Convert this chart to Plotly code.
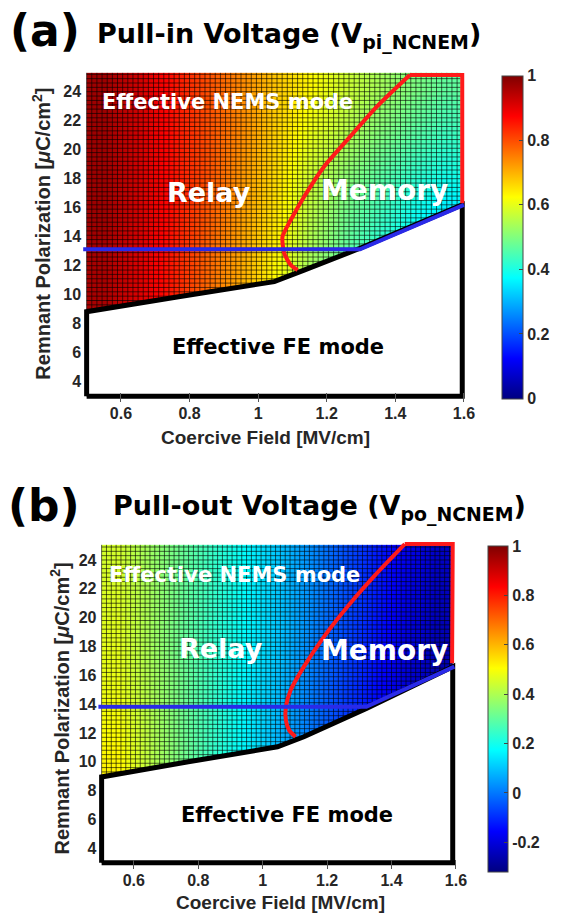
import numpy as np
import plotly.graph_objects as go

W, H = 567, 920

# ---------------- data ----------------
X_EDGES = [0.5, 0.6, 0.7, 0.8, 0.9, 1.0, 1.1, 1.2, 1.3, 1.4, 1.5, 1.59]
Y_EDGES_A = [3, 8, 11, 14, 17, 20, 23, 25.3]
Y_EDGES_B = [3, 8, 11, 14, 17, 20, 23, 25.05]

# Pull-in voltage (normalised), rows bottom -> top
VPI = [
    [0.96, 0.91, 0.85, 0.77, 0.70, 0.62, 0.52, 0.45, 0.39, 0.34, 0.30],
    [0.96, 0.91, 0.85, 0.77, 0.70, 0.62, 0.52, 0.45, 0.39, 0.34, 0.30],
    [0.96, 0.91, 0.85, 0.78, 0.71, 0.63, 0.54, 0.47, 0.41, 0.36, 0.32],
    [0.97, 0.92, 0.86, 0.79, 0.72, 0.65, 0.56, 0.49, 0.44, 0.39, 0.35],
    [0.97, 0.92, 0.86, 0.80, 0.73, 0.66, 0.58, 0.52, 0.47, 0.43, 0.40],
    [0.97, 0.92, 0.86, 0.80, 0.74, 0.67, 0.61, 0.56, 0.51, 0.47, 0.44],
    [0.97, 0.92, 0.86, 0.80, 0.74, 0.68, 0.63, 0.58, 0.54, 0.50, 0.47],
]
# Pull-out voltage (normalised), rows bottom -> top
VPO = [
    [0.52, 0.42, 0.33, 0.24, 0.16, 0.08, 0.00, -0.08, -0.16, -0.23, -0.28],
    [0.52, 0.42, 0.33, 0.24, 0.16, 0.08, 0.00, -0.08, -0.16, -0.23, -0.28],
    [0.50, 0.41, 0.32, 0.24, 0.16, 0.08, 0.00, -0.08, -0.15, -0.22, -0.27],
    [0.48, 0.40, 0.32, 0.24, 0.16, 0.09, 0.01, -0.07, -0.14, -0.21, -0.26],
    [0.47, 0.39, 0.31, 0.24, 0.17, 0.10, 0.02, -0.06, -0.13, -0.20, -0.25],
    [0.46, 0.39, 0.31, 0.24, 0.17, 0.10, 0.03, -0.05, -0.12, -0.19, -0.24],
    [0.45, 0.38, 0.31, 0.24, 0.17, 0.10, 0.03, -0.05, -0.12, -0.18, -0.23],
]

# FE-mode boundary (white region), panel a
FE_A_X = [0.5, 0.5, 0.768, 1.047, 1.134, 1.297, 1.595, 1.595, 0.5]
FE_A_Y = [3.0, 8.83, 9.86, 10.9, 11.7, 13.2, 16.2, 3.0, 3.0]
# Blue line, panel a
BL_A_X = [0.49, 1.297, 1.6]
BL_A_Y = [13.13, 13.13, 16.2]
# Red memory boundary, panel a
RD_A_X = [1.115, 1.095, 1.076, 1.071, 1.095, 1.134, 1.192, 1.268, 1.346, 1.442, 1.595, 1.595]
RD_A_Y = [11.7, 12.05, 12.86, 14.0, 15.15, 16.76, 18.83, 20.9, 22.97, 25.15, 25.15, 16.3]

# panel b
FE_B_X = [0.5, 0.5, 0.769, 1.046, 1.128, 1.322, 1.59, 1.59, 0.5]
FE_B_Y = [3.0, 8.95, 10.0, 11.04, 11.74, 13.7, 16.6, 3.0, 3.0]
BL_B_X = [0.49, 1.322, 1.595]
BL_B_Y = [13.82, 13.82, 16.6]
RD_B_X = [1.102, 1.082, 1.072, 1.072, 1.087, 1.128, 1.19, 1.272, 1.354, 1.441, 1.59, 1.588]
RD_B_Y = [11.74, 12.2, 12.9, 13.82, 14.98, 16.6, 18.67, 21.0, 23.07, 25.1, 25.1, 16.83]

X_TICKS = [0.6, 0.8, 1.0, 1.2, 1.4, 1.6]
X_TICKTEXT = ["0.6", "0.8", "1", "1.2", "1.4", "1.6"]
Y_TICKS = [4, 6, 8, 10, 12, 14, 16, 18, 20, 22, 24]
CB_A_TICKS = [0, 0.2, 0.4, 0.6, 0.8, 1]
CB_A_TEXT = ["0", "0.2", "0.4", "0.6", "0.8", "1"]
CB_B_TICKS = [-0.2, 0, 0.2, 0.4, 0.6, 0.8, 1]
CB_B_TEXT = ["-0.2", "0", "0.2", "0.4", "0.6", "0.8", "1"]

# ---------------- style ----------------
JET = [[0.0, "rgb(0,0,128)"], [0.125, "rgb(0,0,255)"], [0.375, "rgb(0,255,255)"],
       [0.625, "rgb(255,255,0)"], [0.875, "rgb(255,0,0)"], [1.0, "rgb(128,0,0)"]]
AX_FONT = "Liberation Sans, Arial, sans-serif"
LBL_FONT = "DejaVu Sans, sans-serif"
DARK = "#262626"


def px2x(p):
    return p / W


def py2y(p):
    return 1 - p / H


fig = go.Figure()


def mesh(xmin, xmax, ymin, ymax, dx, dy):
    xs, ys = [], []
    for xv in np.arange(xmin, xmax + 1e-9, dx):
        xs += [xv, xv, None]
        ys += [ymin, ymax, None]
    for yv in np.arange(ymin, ymax + 1e-9, dy):
        xs += [xmin, xmax, None]
        ys += [yv, yv, None]
    return xs, ys


def panel(z, yedges, zmin, zmax, cb, fe, bl, rd, xa, ya):
    fig.add_trace(go.Heatmap(
        x=X_EDGES, y=yedges, z=z, zmin=zmin, zmax=zmax, colorscale=JET,
        zsmooth="best", xaxis=xa, yaxis=ya, colorbar=cb, hoverinfo="skip"))
    mx, my = mesh(X_EDGES[0], X_EDGES[-1], yedges[0], yedges[-1], 0.015, 0.3)
    fig.add_trace(go.Scatter(x=mx, y=my, mode="lines", xaxis=xa, yaxis=ya,
                             line=dict(color="rgba(0,0,0,0.68)", width=0.9),
                             hoverinfo="skip"))
    fig.add_trace(go.Scatter(x=fe[0], y=fe[1], mode="lines", fill="toself",
                             fillcolor="white", xaxis=xa, yaxis=ya,
                             line=dict(color="black", width=5), hoverinfo="skip"))
    # curved part of the red boundary, then its straight top/right edges
    fig.add_trace(go.Scatter(x=rd[0][:10], y=rd[1][:10], mode="lines", xaxis=xa, yaxis=ya,
                             line=dict(color="#ff1a1a", width=4, shape="spline",
                                       smoothing=0.6),
                             hoverinfo="skip"))
    fig.add_trace(go.Scatter(x=rd[0][9:], y=rd[1][9:], mode="lines", xaxis=xa, yaxis=ya,
                             line=dict(color="#ff1a1a", width=4), hoverinfo="skip"))
    fig.add_trace(go.Scatter(x=bl[0], y=bl[1], mode="lines", xaxis=xa, yaxis=ya,
                             line=dict(color="#2a2ae8", width=4), hoverinfo="skip"))


cb_common = dict(xanchor="left", yanchor="middle", lenmode="fraction", xpad=0, ypad=0,
                 outlinewidth=1, outlinecolor="#444", ticks="inside", ticklen=4,
                 tickcolor="#444",
                 tickfont=dict(family=AX_FONT, size=16, color=DARK, weight="bold"))

cb_a = dict(cb_common, x=px2x(506), y=py2y(237), len=323 / H, thickness=21,
            tickvals=CB_A_TICKS, ticktext=CB_A_TEXT)
cb_b = dict(cb_common, x=px2x(492), y=py2y(709), len=326 / H, thickness=20,
            tickvals=CB_B_TICKS, ticktext=CB_B_TEXT)

panel(VPI, Y_EDGES_A, 0, 1, cb_a, (FE_A_X, FE_A_Y), (BL_A_X, BL_A_Y),
      (RD_A_X, RD_A_Y), "x", "y")
panel(VPO, Y_EDGES_B, -0.32, 1.0, cb_b, (FE_B_X, FE_B_Y), (BL_B_X, BL_B_Y),
      (RD_B_X, RD_B_Y), "x2", "y2")

xax = dict(range=[0.487, 1.62], showgrid=False, zeroline=False, showline=False,
           tickvals=X_TICKS, ticktext=X_TICKTEXT, ticks="inside", ticklen=9,
           tickcolor="#555", tickwidth=1,
           tickfont=dict(family=AX_FONT, size=16, color=DARK, weight="bold"))
yax = dict(range=[2.6, 25.4], showgrid=False, zeroline=False, showline=False,
           tickvals=Y_TICKS, ticks="",
           tickfont=dict(family=AX_FONT, size=16, color=DARK, weight="bold"))

# pixel positions of the axis ranges (0.5 -> 87.4 px, 346 px/unit for panel a;
# 0.5 -> 102.5 px, 325 px/unit for panel b)
fig.update_layout(
    width=W, height=H, margin=dict(l=0, r=0, t=0, b=0),
    paper_bgcolor="white", plot_bgcolor="white", showlegend=False,
    xaxis=dict(xax, domain=[px2x(82.9), px2x(475)], anchor="y"),
    yaxis=dict(yax, domain=[py2y(402), py2y(71.4)], anchor="x"),
    xaxis2=dict(xax, domain=[px2x(98.3), px2x(466.5)], anchor="y2"),
    yaxis2=dict(yax, domain=[py2y(868.5), py2y(539.8)], anchor="x2"),
)

ann = []


def txt(text, x, y, size, color, font, xref="paper", yref="paper", angle=0,
        xanchor="center"):
    ann.append(dict(text=text, x=x, y=y, xref=xref, yref=yref, showarrow=False,
                    textangle=angle, xanchor=xanchor, yanchor="middle",
                    font=dict(family=font, size=size, color=color)))


# titles
txt("<b>(a)</b>", px2x(8), py2y(31), 44, "black", LBL_FONT, xanchor="left")
txt("<b>Pull-in Voltage (V<sub>pi_NCNEM</sub>)</b>", px2x(96), py2y(36), 27,
    "black", LBL_FONT, xanchor="left")
txt("<b>(b)</b>", px2x(6), py2y(505), 44, "black", LBL_FONT, xanchor="left")
txt("<b>Pull-out Voltage (V<sub>po_NCNEM</sub>)</b>", px2x(112), py2y(508), 27,
    "black", LBL_FONT, xanchor="left")

# axis titles
YT = "<b>Remnant Polarization [<i>μ</i>C/cm<sup>2</sup>]</b>"
XT = "<b>Coercive Field [MV/cm]</b>"
txt(YT, px2x(42), py2y(234), 20, DARK, AX_FONT, angle=-90)
txt(YT, px2x(60), py2y(708), 20, DARK, AX_FONT, angle=-90)
txt(XT, px2x(268), py2y(437), 19, DARK, AX_FONT)
txt(XT, px2x(283), py2y(902), 19, DARK, AX_FONT)

# region labels
for xr, yr, xs in (("x", "y", [0.912, 0.857, 1.367, 1.057]),
                   ("x2", "y2", [0.914, 0.872, 1.377, 1.077])):
    ys = [23.29, 17.08, 17.22, 6.39] if xr == "x" else [22.95, 17.89, 17.75, 6.31]
    txt("<b>Effective NEMS mode</b>", xs[0], ys[0], 21, "white", LBL_FONT, xr, yr)
    txt("<b>Relay</b>", xs[1], ys[1], 27, "white", LBL_FONT, xr, yr)
    txt("<b>Memory</b>", xs[2], ys[2], 28, "white", LBL_FONT, xr, yr)
    txt("<b>Effective FE mode</b>", xs[3], ys[3], 21, "black", LBL_FONT, xr, yr)

fig.update_layout(annotations=ann)
fig.write_html("out.html")
